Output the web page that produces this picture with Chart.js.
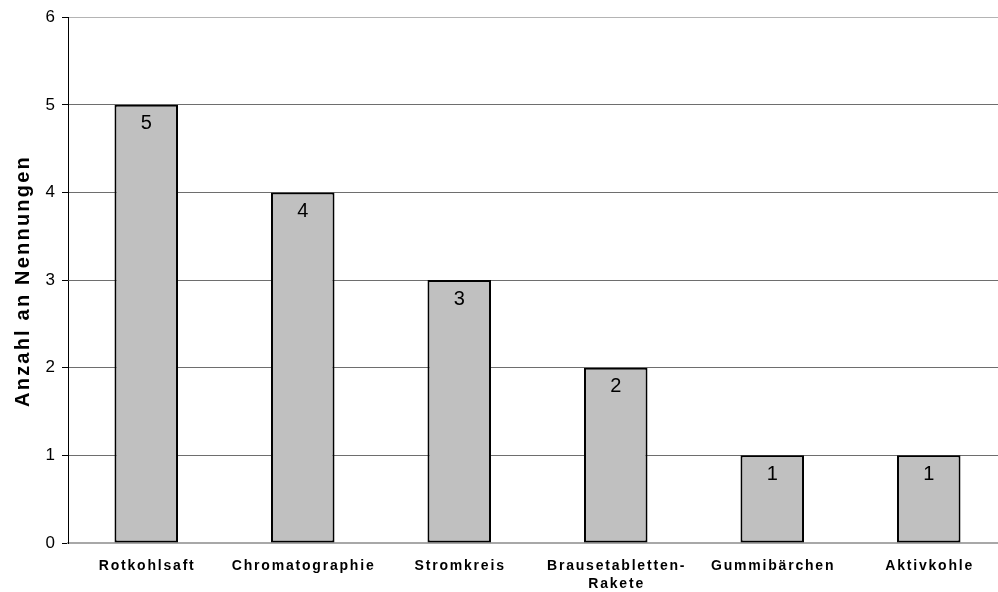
<!DOCTYPE html>
<html lang="de">
<head>
<meta charset="utf-8">
<title>Anzahl an Nennungen</title>
<script src="https://cdn.jsdelivr.net/npm/chart.js@4.4.1/dist/chart.umd.min.js"></script>
<style>
  html, body { margin: 0; padding: 0; background: #fff; overflow: hidden; }
  #wrap { width: 1010px; height: 592px; }
</style>
</head>
<body>
<div id="wrap"><canvas id="chart" width="1010" height="592"></canvas></div>
<script>
// Versuche und wie oft sie genannt wurden
const categories = ['Rotkohlsaft', 'Chromatographie', 'Stromkreis', ['Brausetabletten-', 'Rakete'], 'Gummibärchen', 'Aktivkohle'];
const nennungen = [5, 4, 3, 2, 1, 1];
const yTicks = [0, 1, 2, 3, 4, 5, 6];
const yTitle = 'Anzahl an Nennungen';

const FONT = "Arial, 'Liberation Sans', sans-serif";

// Wert oben in jedem Balken
const valueLabels = {
  id: 'valueLabels',
  afterDatasetsDraw(chart) {
    const ctx = chart.ctx;
    const meta = chart.getDatasetMeta(0);
    ctx.save();
    ctx.font = '20px ' + FONT;
    ctx.fillStyle = '#000';
    ctx.textAlign = 'center';
    ctx.textBaseline = 'middle';
    meta.data.forEach((bar, i) => {
      ctx.fillText(String(nennungen[i]), bar.x, bar.y + 19);
    });
    ctx.restore();
  }
};

// Text mit Sperrung zentriert zeichnen
function spacedText(ctx, text, cx, cy, spacing) {
  ctx.letterSpacing = '0px';
  const w = ctx.measureText(text).width + spacing * (text.length - 1);
  ctx.letterSpacing = spacing + 'px';
  ctx.textAlign = 'left';
  ctx.fillText(text, cx - w / 2, cy);
  ctx.letterSpacing = '0px';
}

// Kategoriebeschriftungen und Achsentitel
const axisText = {
  id: 'axisText',
  afterDraw(chart) {
    const ctx = chart.ctx;
    const xs = chart.scales.x;
    const area = chart.chartArea;
    ctx.save();
    ctx.fillStyle = '#000';
    ctx.textBaseline = 'middle';
    ctx.font = 'bold 14px ' + FONT;
    categories.forEach((label, i) => {
      const lines = Array.isArray(label) ? label : [label];
      const x = xs.getPixelForValue(i);
      lines.forEach((line, j) => {
        spacedText(ctx, line, x, area.bottom + 23.5 + j * 18, 1.8);
      });
    });
    ctx.translate(23, (area.top + area.bottom) / 2 + 2);
    ctx.rotate(-Math.PI / 2);
    ctx.font = 'bold 20px ' + FONT;
    spacedText(ctx, yTitle, 0, 0, 2.2);
    ctx.restore();
  }
};

new Chart(document.getElementById('chart'), {
  type: 'bar',
  data: {
    labels: categories,
    datasets: [{
      data: nennungen,
      backgroundColor: '#c0c0c0',
      borderColor: '#000',
      borderWidth: 2,
      borderSkipped: false,
      barPercentage: 0.406,
      categoryPercentage: 1
    }]
  },
  options: {
    responsive: false,
    animation: false,
    devicePixelRatio: 1,
    layout: { padding: { top: 17, right: 3, bottom: 0, left: 0 } },
    plugins: {
      legend: { display: false },
      tooltip: { enabled: false },
      title: { display: false }
    },
    scales: {
      x: {
        grid: { display: false },
        border: { display: true, color: '#a8a8a8', width: 2 },
        ticks: { display: false },
        afterFit(scale) { scale.height = 49; }
      },
      y: {
        min: yTicks[0],
        max: yTicks[yTicks.length - 1],
        afterBuildTicks(scale) { scale.ticks = yTicks.map(v => ({ value: v })); },
        ticks: {
          stepSize: 1,
          color: '#000',
          padding: 7,
          font: { family: FONT, size: 17 }
        },
        grid: {
          color: ctx => ctx.tick && ctx.tick.value === 6 ? '#b4b4b4' : (ctx.tick && ctx.tick.value === 0 ? 'rgba(0,0,0,0)' : '#6e6e6e'),
          lineWidth: 1,
          tickColor: '#000',
          tickLength: 6,
          drawTicks: true
        },
        border: { display: true, color: '#000', width: 1 },
        afterFit(scale) { scale.width = 68; }
      }
    }
  },
  plugins: [valueLabels, axisText]
});
</script>
</body>
</html>
